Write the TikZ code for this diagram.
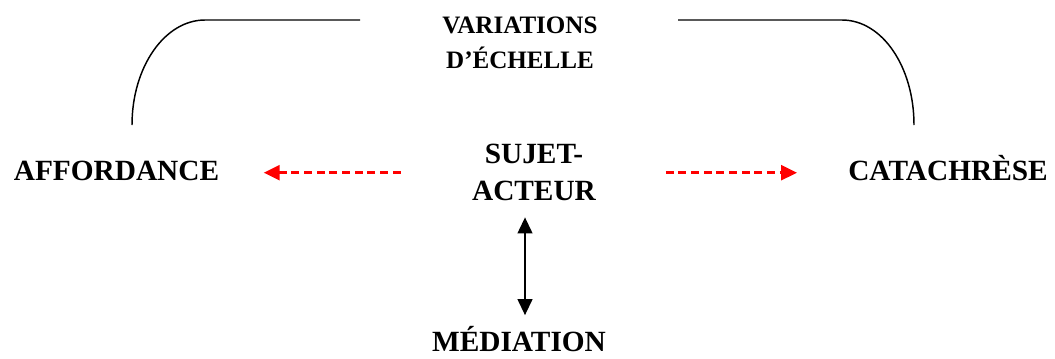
\documentclass[tikz,border=0pt]{standalone}
\usepackage{fontspec}
\setmainfont{Liberation Serif}
\usetikzlibrary{arrows.meta}

\tikzset{every picture/.style={line width=0.75pt}}
\tikzset{
  bigword/.style={inner sep=0pt, font=\fontsize{22}{27.75}\selectfont\bfseries, align=center},
  smallword/.style={inner sep=0pt, font=\fontsize{18.8}{26}\selectfont\bfseries, align=center},
  redlink/.style={draw={rgb, 255:red, 255; green, 0; blue, 0 }, line width=2.4pt, dash pattern=on 6pt off 3.5pt,
    -{Triangle[length=12pt,width=11pt,fill={rgb, 255:red, 255; green, 0; blue, 0 }]}},
  bothway/.style={line width=1.6pt, {Triangle[length=12pt,width=11pt]}-{Triangle[length=12pt,width=11pt]}},
  bracket/.style={line width=1.1pt}
}

\begin{document}
\begin{tikzpicture}[x=0.75pt,y=0.75pt,yscale=-1,xscale=1]
\useasboundingbox (0,0) rectangle (1055,358);

% Text Node
\node (var) [smallword] at (520,42.5) {VARIATIONS\\D’ÉCHELLE};
% Text Node
\node (aff) [bigword, anchor=base] at (116.5,180) {AFFORDANCE};
% Text Node
\node (cat) [bigword, anchor=base] at (948,180) {CATACHRÈSE};
% Text Node
\node (suj) [bigword] at (534,172.5) {SUJET-\\ACTEUR};
% Text Node
\node (med) [bigword, anchor=base] at (519,351.5) {MÉDIATION};

%Curve Lines [left bracket]
\coordinate (lfoot) at (132,125);
\coordinate (lend) at (360,20);
\draw [bracket] (lfoot) .. controls (132,67) and (164.7,20) .. (205,20) -- (lend);
%Curve Lines [right bracket]
\coordinate (rstart) at (678,20);
\coordinate (rfoot) at (914,125);
\draw [bracket] (rstart) -- (842,20) .. controls (882.3,20) and (914,67) .. (rfoot);

%Straight Lines [dashed red arrows]
\draw [redlink, shorten <=53.25pt, shorten >=33pt] (suj.west |- 0,172.7) -- (aff.east |- 0,172.7);
\draw [redlink, shorten <=52pt, shorten >=38pt] (suj.east |- 0,172.7) -- (cat.west |- 0,172.7);
%Straight Lines [double arrow]
\draw [bothway, shorten <=12pt, shorten >=8pt] (525,0 |- suj.south) -- (525,0 |- med.north);

\end{tikzpicture}
\end{document}
